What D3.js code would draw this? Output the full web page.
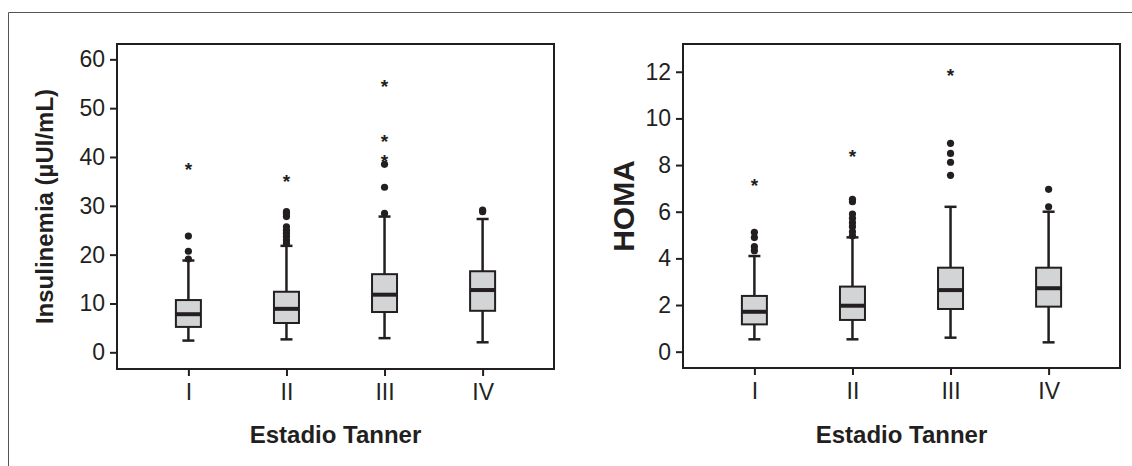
<!DOCTYPE html>
<html>
<head>
<meta charset="utf-8">
<script src="https://cdn.jsdelivr.net/npm/d3@7"></script>
<style>
  body { margin: 0; background: #fff; }
  svg { display: block; font-family: "Liberation Sans", Arial, sans-serif; }
</style>
</head>
<body>
<div id="chart"></div>
<script>
// categories
var stages = ["I", "II", "III", "IV"];

// Insulinemia (uUI/mL) box stats per stage
var insLow = [2.4, 2.65, 2.9, 2.05];
var insQ1 = [5.2, 6.0, 8.25, 8.5];
var insMed = [7.8, 8.9, 11.8, 12.75];
var insQ3 = [10.7, 12.4, 16.0, 16.6];
var insHigh = [18.8, 21.8, 27.8, 27.3];
var insOut = [
  [19.1, 20.7, 23.8],
  [22.3, 23.0, 23.7, 24.4, 25.0, 25.7, 27.8, 28.4, 28.8],
  [28.45, 33.8, 38.5],
  [28.8, 29.1]
];
var insExt = [[38.3], [35.9], [40.1, 44.1, 55.3], []];
var insTicks = [0, 10, 20, 30, 40, 50, 60];

// HOMA box stats per stage
var homaLow = [0.53, 0.53, 0.6, 0.4];
var homaQ1 = [1.17, 1.36, 1.83, 1.93];
var homaMed = [1.71, 1.97, 2.64, 2.72];
var homaQ3 = [2.39, 2.79, 3.6, 3.6];
var homaHigh = [4.1, 4.9, 6.21, 6.0];
var homaOut = [
  [4.33, 4.5, 4.89, 5.12],
  [4.97, 5.14, 5.36, 5.53, 5.72, 5.9, 6.43, 6.53],
  [7.56, 8.12, 8.5, 8.93],
  [6.21, 6.96]
];
var homaExt = [[7.32], [8.55], [12.04], []];
var homaTicks = [0, 2, 4, 6, 8, 10, 12];

var ink = "#231f20";

var svg = d3.select("#chart").append("svg")
  .attr("width", 1132)
  .attr("height", 466);

// outer frame (runs off the right and bottom edges)
svg.append("path")
  .attr("d", "M8.5,466 L8.5,12.5 L1132,12.5")
  .attr("fill", "none")
  .attr("stroke", "#555")
  .attr("stroke-width", 1);

function boxPanel(cfg) {
  var g = svg.append("g");

  var x = d3.scalePoint()
    .domain(stages)
    .range([cfg.left, cfg.right])
    .padding(0.728);

  var y = d3.scaleLinear()
    .domain(cfg.domain)
    .range([cfg.bottom, cfg.top]);

  var yAxis = d3.axisLeft(y).tickValues(cfg.ticks).tickSize(7).tickPadding(5).tickSizeOuter(0);
  var xAxis = d3.axisBottom(x).tickSize(7).tickPadding(8).tickSizeOuter(0);

  g.append("g")
    .attr("transform", "translate(" + cfg.left + ",0)")
    .call(yAxis);
  g.append("g")
    .attr("transform", "translate(0," + cfg.bottom + ")")
    .call(xAxis);

  g.selectAll(".domain").remove();
  g.selectAll(".tick line").attr("stroke", ink).attr("stroke-width", 2);
  g.selectAll(".tick text")
    .attr("fill", ink)
    .style("font-size", "23px");

  var half = 12.5, cap = 6;
  var rows = stages.map(function(s, i) {
    return { s: s, lo: cfg.low[i], q1: cfg.q1[i], med: cfg.med[i], q3: cfg.q3[i], hi: cfg.high[i] };
  });

  var b = g.selectAll(".box").data(rows).enter().append("g").attr("class", "box");

  // whiskers
  b.append("line")
    .attr("x1", d => x(d.s)).attr("x2", d => x(d.s))
    .attr("y1", d => y(d.hi)).attr("y2", d => y(d.lo))
    .attr("stroke", ink).attr("stroke-width", 2.5);
  b.append("line")
    .attr("x1", d => x(d.s) - cap).attr("x2", d => x(d.s) + cap)
    .attr("y1", d => y(d.hi)).attr("y2", d => y(d.hi))
    .attr("stroke", ink).attr("stroke-width", 2.5);
  b.append("line")
    .attr("x1", d => x(d.s) - cap).attr("x2", d => x(d.s) + cap)
    .attr("y1", d => y(d.lo)).attr("y2", d => y(d.lo))
    .attr("stroke", ink).attr("stroke-width", 2.5);

  // box
  b.append("rect")
    .attr("x", d => x(d.s) - half)
    .attr("width", half * 2)
    .attr("y", d => y(d.q3))
    .attr("height", d => y(d.q1) - y(d.q3))
    .attr("fill", "#d3d4d6")
    .attr("stroke", ink)
    .attr("stroke-width", 2);

  // median
  b.append("line")
    .attr("x1", d => x(d.s) - half).attr("x2", d => x(d.s) + half)
    .attr("y1", d => y(d.med)).attr("y2", d => y(d.med))
    .attr("stroke", ink).attr("stroke-width", 4);

  // outliers
  var pts = [];
  cfg.out.forEach(function(arr, i) { arr.forEach(function(v) { pts.push({ s: stages[i], v: v }); }); });
  g.selectAll(".out").data(pts).enter().append("circle")
    .attr("class", "out")
    .attr("cx", d => x(d.s))
    .attr("cy", d => y(d.v))
    .attr("r", 3.6)
    .attr("fill", ink);

  // extremes
  var ext = [];
  cfg.ext.forEach(function(arr, i) { arr.forEach(function(v) { ext.push({ s: stages[i], v: v }); }); });
  g.selectAll(".ext").data(ext).enter().append("text")
    .attr("class", "ext")
    .attr("x", d => x(d.s))
    .attr("y", d => y(d.v) + 11)
    .attr("text-anchor", "middle")
    .attr("fill", ink)
    .style("font-size", "19px")
    .style("font-weight", "bold")
    .text("*");

  // panel frame
  g.append("rect")
    .attr("x", cfg.left).attr("y", cfg.top)
    .attr("width", cfg.right - cfg.left)
    .attr("height", cfg.bottom - cfg.top)
    .attr("fill", "none")
    .attr("stroke", ink)
    .attr("stroke-width", 2);

  // labels
  g.append("text")
    .attr("transform", "translate(" + cfg.labelX + "," + ((cfg.top + cfg.bottom) / 2) + ") rotate(-90)")
    .attr("text-anchor", "middle")
    .attr("fill", ink)
    .style("font-size", cfg.labelSize + "px")
    .style("font-weight", "bold")
    .text(cfg.label);

  g.append("text")
    .attr("x", (cfg.left + cfg.right) / 2)
    .attr("y", 443)
    .attr("text-anchor", "middle")
    .attr("fill", ink)
    .style("font-size", "24px")
    .style("font-weight", "bold")
    .text("Estadio Tanner");
}

boxPanel({
  left: 117, right: 554, top: 44, bottom: 369,
  domain: [-3.42, 63.14], ticks: insTicks,
  low: insLow, q1: insQ1, med: insMed, q3: insQ3, high: insHigh,
  out: insOut, ext: insExt,
  label: "Insulinemia (µUI/mL)", labelSize: 24, labelX: 53
});

boxPanel({
  left: 683, right: 1120, top: 44, bottom: 368,
  domain: [-0.7, 13.19], ticks: homaTicks,
  low: homaLow, q1: homaQ1, med: homaMed, q3: homaQ3, high: homaHigh,
  out: homaOut, ext: homaExt,
  label: "HOMA", labelSize: 30, labelX: 634
});
</script>
</body>
</html>
